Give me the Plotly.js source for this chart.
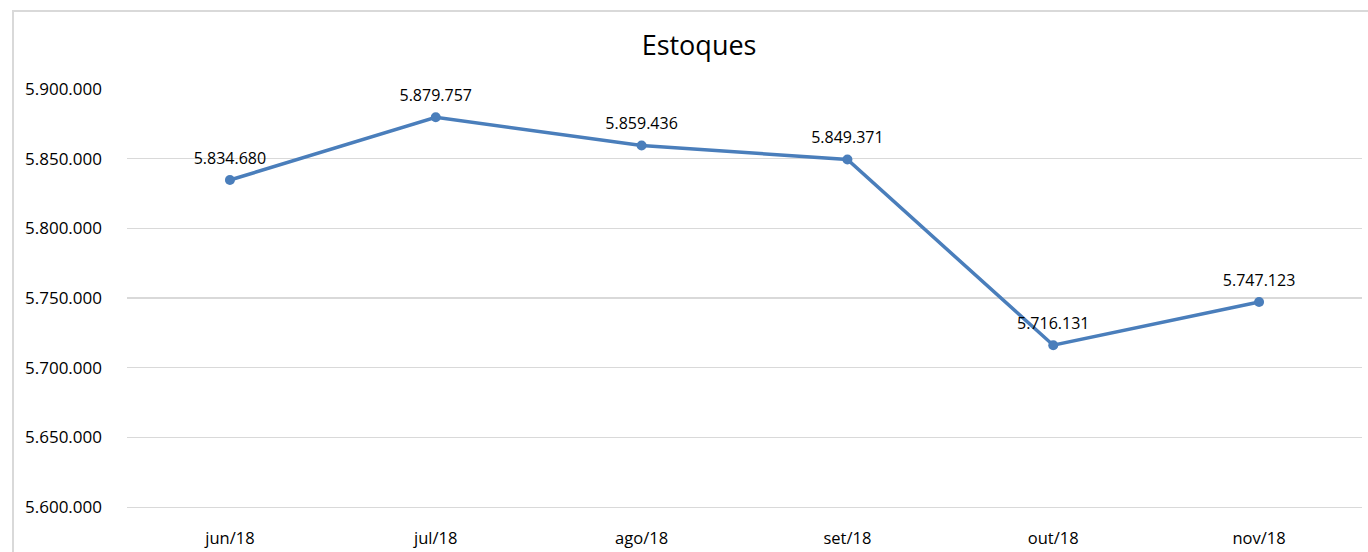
<!DOCTYPE html>
<html>
<head>
<meta charset="utf-8">
<script src="https://cdn.plot.ly/plotly-3.0.1.min.js"></script>
<style>
html,body{margin:0;padding:0;background:#fff;}
#wrap{position:relative;width:1368px;height:552px;overflow:hidden;}
#chart{width:1368px;height:552px;}
#frame{position:absolute;left:12px;top:10px;width:1400px;height:600px;border-left:2px solid #d9d9d9;border-top:2px solid #d9d9d9;pointer-events:none;}
</style>
</head>
<body>
<div id="wrap"><div id="chart"></div><div id="frame"></div></div>
<script>
const categories = ["jun/18","jul/18","ago/18","set/18","out/18","nov/18"];
const estoques = [5834680, 5879757, 5859436, 5849371, 5716131, 5747123];
const yTicks = [5600000, 5650000, 5700000, 5750000, 5800000, 5850000, 5900000];
const chartTitle = "Estoques";

const font = "Open Sans, Noto Sans, sans-serif";
const lineTrace = {
  x: categories,
  y: estoques,
  type: "scatter",
  mode: "lines+markers",
  line: {color: "#4a7ebb", width: 3.5},
  marker: {color: "#4a7ebb", size: 10},
  hoverinfo: "skip"
};
const labelTrace = {
  x: categories,
  y: estoques,
  type: "scatter",
  mode: "markers+text",
  marker: {color: "rgba(0,0,0,0)", size: 18},
  texttemplate: "%{y:,d}",
  textposition: "top center",
  textfont: {family: font, size: 16, color: "#000"},
  cliponaxis: false,
  hoverinfo: "skip"
};
const layout = {
  width: 1368, height: 552,
  margin: {l: 127, r: 6, t: 89, b: 45, pad: 0},
  paper_bgcolor: "#fff", plot_bgcolor: "#fff",
  separators: ",.",
  showlegend: false,
  title: {text: chartTitle, font: {family: font, size: 27, color: "#000"},
          xref: "container", x: 0.511, xanchor: "center",
          yref: "container", y: 0.918, yanchor: "middle"},
  xaxis: {type: "category", range: [-0.5, 5.5], showgrid: false, zeroline: false,
          showline: true, linecolor: "#d9d9d9", linewidth: 1.3, ticks: "", ticklabelstandoff: 16,
          tickfont: {family: font, size: 16.5, color: "#000"}},
  yaxis: {range: [5600000, 5900000], tickvals: yTicks, tickformat: ",d",
          showgrid: true, gridcolor: "#d9d9d9", gridwidth: 1.3, zeroline: false,
          showline: false, ticks: "", ticklabelstandoff: 24,
          tickfont: {family: font, size: 17, color: "#000"}}
};
Plotly.newPlot("chart", [lineTrace, labelTrace], layout, {staticPlot: true, displayModeBar: false});
</script>
</body>
</html>
